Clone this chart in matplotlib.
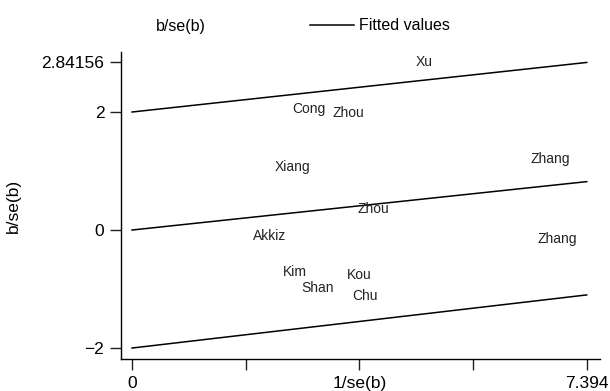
import matplotlib
matplotlib.use("Agg")
import matplotlib.pyplot as plt
from matplotlib.lines import Line2D
import numpy as np

plt.rcParams['font.family'] = ['Liberation Sans', 'DejaVu Sans']

# Data (1/se(b), b/se(b))
studies = ["Xu", "Cong", "Zhou", "Xiang", "Zhang", "Zhou", "Akkiz", "Zhang",
           "Kim", "Shan", "Kou", "Chu"]
precision = [4.75, 2.87, 3.51, 2.61, 6.80, 3.92, 2.23, 6.91, 2.64, 3.02, 3.69, 3.79]
zscore = [2.84156, 2.05, 1.99, 1.07, 1.21, 0.356, -0.096, -0.15, -0.71, -0.99, -0.76, -1.12]
x_max = 7.394
# fitted line and +/-2 bands: value at x=0 and at x=x_max
line_start = [2.0, 0.0, -2.0]
line_end = [2.84, 0.82, -1.10]
y_ticks = [-2, 0, 2, 2.84156]
y_ticklabels = ["\u22122", "0", "2", "2.84156"]
x_ticklabels = ["0", "", "1/se(b)", "", "7.394"]

fig = plt.figure(figsize=(6.10, 3.91), dpi=100)
ax = fig.add_axes([121/610, 1-359/391, (600-121)/610, (359-52)/391])

for s, x, y in zip(studies, precision, zscore):
    ax.text(x, y, s, ha='center', va='center', fontsize=10, color='#222222')

for y0, y1 in zip(line_start, line_end):
    ax.plot([0, x_max], [y0, y1], color='black', lw=1.1)

ax.set_xlim(-0.18, 7.61)
ax.set_ylim(-2.186, 3.017)
ax.set_xticks(np.linspace(0, x_max, 5))
ax.set_xticklabels(x_ticklabels, fontsize=12.5)
ax.set_yticks(y_ticks)
ax.set_yticklabels(y_ticklabels, fontsize=12.5)
ax.tick_params(direction='out', length=8, width=1, color='#222222', pad=4)
for sp in ['top', 'right']:
    ax.spines[sp].set_visible(False)
for sp in ['left', 'bottom']:
    ax.spines[sp].set_linewidth(1)
ax.set_ylabel("b/se(b)", fontsize=12.5, labelpad=15)

handles = [Line2D([], [], linestyle='none', marker=None),
           Line2D([], [], color='black', lw=1.1)]
leg = fig.legend(handles, ["b/se(b)", "Fitted values"], loc='center',
                 bbox_to_anchor=(0.456, 1-26/391), ncol=2, frameon=False,
                 fontsize=11.5, handlelength=2.8, handletextpad=0.3,
                 columnspacing=6.5)

fig.savefig("out.png", dpi=100)
